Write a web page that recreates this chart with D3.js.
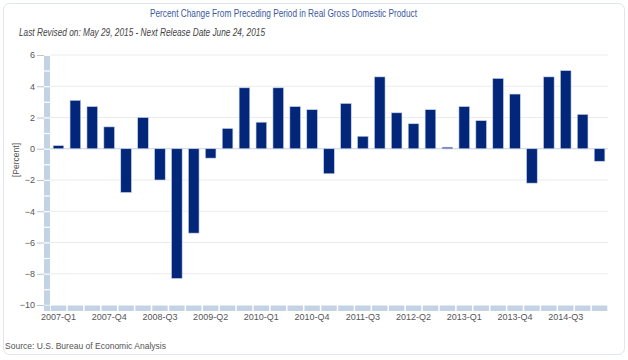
<!DOCTYPE html>
<html><head><meta charset="utf-8">
<script src="https://cdn.jsdelivr.net/npm/d3@7"></script>
<style>html,body{margin:0;padding:0;background:#fff;}svg{display:block;font-family:"Liberation Sans",Arial,sans-serif;}</style>
</head><body>
<svg id="c" width="628" height="360"></svg>
<script>
const categories = [
 "2007-Q1","2007-Q2","2007-Q3","2007-Q4",
 "2008-Q1","2008-Q2","2008-Q3","2008-Q4",
 "2009-Q1","2009-Q2","2009-Q3","2009-Q4",
 "2010-Q1","2010-Q2","2010-Q3","2010-Q4",
 "2011-Q1","2011-Q2","2011-Q3","2011-Q4",
 "2012-Q1","2012-Q2","2012-Q3","2012-Q4",
 "2013-Q1","2013-Q2","2013-Q3","2013-Q4",
 "2014-Q1","2014-Q2","2014-Q3","2014-Q4",
 "2015-Q1"];
const values = [
 0.2, 3.1, 2.7, 1.4,
 -2.8, 2.0, -2.0, -8.3,
 -5.4, -0.6, 1.3, 3.9,
 1.7, 3.9, 2.7, 2.5,
 -1.6, 2.9, 0.8, 4.6,
 2.3, 1.6, 2.5, 0.1,
 2.7, 1.8, 4.5, 3.5,
 -2.2, 4.6, 5.0, 2.2,
 -0.8];
const yTicks = [-10,-8,-6,-4,-2,0,2,4,6];
const xLabelEvery = 3;
const title = "Percent Change From Preceding Period in Real Gross Domestic Product";
const subtitle = "Last Revised on: May 29, 2015 - Next Release Date June 24, 2015";
const yTitle = "[Percent]";
const source = "Source: U.S. Bureau of Economic  Analysis";

const svg = d3.select("#c");
// panel
svg.append("rect").attr("x",3.5).attr("y",3.5).attr("width",621).attr("height",351)
  .attr("rx",6).attr("fill","#fff").attr("stroke","#dfe4ee").attr("stroke-width",1);

const x = d3.scaleBand().domain(categories).range([50,608]).paddingInner(0.37).paddingOuter(0.185);
const y = d3.scaleLinear().domain([-10,6]).range([305,55]);

// gridlines
svg.append("g").selectAll("line").data(yTicks.filter(d=>d!==0 && d!==-10)).join("line")
  .attr("x1",50).attr("x2",608).attr("y1",d=>y(d)).attr("y2",d=>y(d))
  .attr("stroke","#ececec").attr("stroke-width",1);

// y-axis strip, segmented per unit
const units = d3.range(-10,6);
svg.append("g").selectAll("rect").data(units).join("rect")
  .attr("x",44).attr("width",6)
  .attr("y",d=>y(d+1)+1).attr("height",d=>y(d)-y(d+1)-1.2)
  .attr("fill","#c3d3e3");
// corner piece
svg.append("rect").attr("x",44).attr("y",305.5).attr("width",6).attr("height",5.5).attr("fill","#c3d3e3");
// x-axis strip segmented per band
svg.append("g").selectAll("rect").data(categories).join("rect")
  .attr("x",d=>x(d)-x.step()*0.185+0.8).attr("width",x.step()-1.5)
  .attr("y",305.5).attr("height",5.5).attr("fill","#c3d3e3");

// y axis ticks and labels
const yAxis = d3.axisLeft(y).tickValues(yTicks).tickSize(7).tickPadding(2).tickFormat(d3.format("d"));
const ga = svg.append("g").attr("transform","translate(44,0)").call(yAxis);
ga.select(".domain").remove();
ga.selectAll(".tick line").attr("stroke","#b8c6d6");
ga.selectAll(".tick text").attr("fill","#555").attr("font-size",9).attr("font-family","Liberation Sans, Arial, sans-serif");

// zero line
svg.append("line").attr("x1",50).attr("x2",608).attr("y1",y(0)).attr("y2",y(0))
  .attr("stroke","#c3d3e3").attr("stroke-width",1);

// bars
svg.append("g").selectAll("rect").data(values).join("rect")
  .attr("x",(d,i)=>x(categories[i]))
  .attr("width",x.bandwidth())
  .attr("y",d=>Math.min(y(d),y(0)))
  .attr("height",d=>Math.abs(y(d)-y(0)))
  .attr("fill","#02267a").attr("stroke","#c9d3e8").attr("stroke-width",0.6);

// x labels
const xAxis = d3.axisBottom(x).tickValues(categories.filter((c,i)=>i%xLabelEvery===0)).tickSize(0).tickPadding(0);
const gx = svg.append("g").attr("transform","translate(0,311)").call(xAxis);
gx.select(".domain").remove();
gx.selectAll(".tick text").attr("fill","#555").attr("font-size",9).attr("dy","0.95em")
  .attr("font-family","Liberation Sans, Arial, sans-serif");

// titles
svg.append("text").attr("x",150).attr("y",17).attr("font-size",10.5).attr("fill","#3a58a0")
  .attr("textLength",267).attr("lengthAdjust","spacingAndGlyphs").text(title);
svg.append("text").attr("x",19).attr("y",36).attr("font-size",10.5).attr("fill","#444")
  .attr("font-style","italic").attr("textLength",246).attr("lengthAdjust","spacingAndGlyphs").text(subtitle);
svg.append("text").attr("transform","translate(19,160) rotate(-90)").attr("text-anchor","middle")
  .attr("font-size",8.5).attr("fill","#555").text(yTitle);
svg.append("text").attr("x",5).attr("y",349).attr("font-size",9).attr("fill","#555")
  .attr("textLength",161).attr("lengthAdjust","spacingAndGlyphs").text(source);
</script>
</body></html>
